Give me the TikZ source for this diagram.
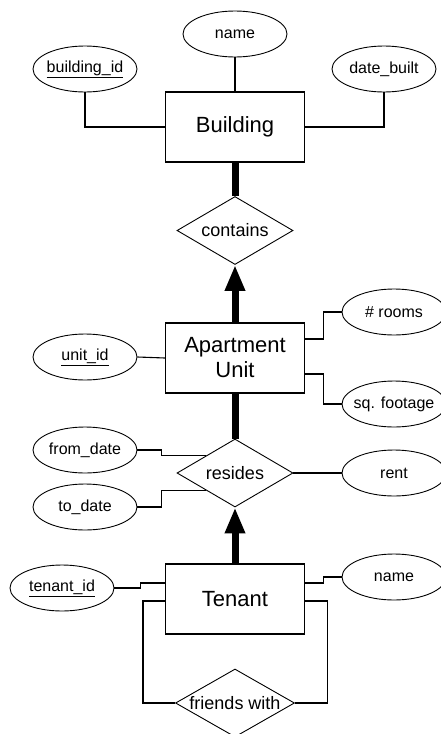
\documentclass[tikz,border=0pt]{standalone}
\usepackage{fontspec}
\setmainfont{Liberation Sans}
\usetikzlibrary{shapes.geometric,arrows.meta,calc}
\tikzset{
  ent/.style={draw, rectangle, minimum width=139pt, minimum height=70pt, inner sep=0pt, line width=1.1pt, font=\fontsize{22}{25}\selectfont, align=center},
  attr/.style={draw, ellipse, minimum width=104pt, minimum height=46pt, inner sep=0pt, line width=0.9pt, label={[font=\fontsize{16}{18}\selectfont]center:#1}},
  rel/.style={draw, diamond, minimum width=116pt, minimum height=68pt, inner sep=0pt, line width=0.9pt, label={[font=\fontsize{18}{20}\selectfont]center:#1}},
  conn/.style={line width=1.1pt},
  heavy/.style={line width=7pt},
  heavyarrow/.style={line width=7pt, -{Triangle[width=19pt,length=26pt]}}
}
\begin{document}
\begin{tikzpicture}[x=1pt,y=-1pt]
\useasboundingbox (0,0) rectangle (441,734);
% Building
\node[ent] (bld) at (235,127) {Building};
\node[attr={name}] (bname) at (235,34) {};
\node[attr={\underline{building\_id}}] (bid) at (85,69) {};
\node[attr={date\_built}] (dbuilt) at (384,69) {};
\draw[conn] (bname.south) -- (bld.north);
\draw[conn] (bid.south) |- (bld.west);
\draw[conn] (dbuilt.south) |- (bld.east);
% contains
\node[rel={contains}] (con) at (235,230.5) {};
\draw[heavy] (bld.south) -- (con.north);
% Apartment Unit
\node[ent] (apt) at (235,358) {Apartment\\Unit};
\draw[heavyarrow] (apt.north) -- (con.south);
\node[attr={\underline{unit\_id}}] (uid) at (85,357) {};
\node[attr={\# rooms}] (rooms) at (394,312) {};
\node[attr={sq. footage}] (sqft) at (394,404) {};
\draw[conn] (uid.east) -- (apt.west);
\draw[conn] ([yshift=19pt]apt.east) -- ++(18,0) |- (rooms.west);
\draw[conn] ([yshift=-16pt]apt.east) -- ++(18,0) |- (sqft.west);
% resides
\node[rel={resides}] (res) at (235,473) {};
\draw[heavy] (apt.south) -- (res.north);
\node[attr={from\_date}] (fd) at (85,450) {};
\node[attr={to\_date}] (td) at (85,507) {};
\node[attr={rent}] (rent) at (394,473) {};
\draw[conn] (fd.east) -- ++(24,0) |- (res.north west);
\draw[conn] (td.east) -- ++(24,0) |- (res.south west);
\draw[conn] (res.east) -- (rent.west);
% Tenant
\node[ent] (ten) at (235,599) {Tenant};
\draw[heavyarrow] (ten.north) -- (res.south);
\node[attr={\underline{tenant\_id}}] (tid) at (62,588) {};
\node[attr={name}] (tname) at (394,577) {};
\draw[conn] (tid.east) -- ++(26,0) |- ([yshift=16pt]ten.west);
\draw[conn] ([yshift=16pt]ten.east) -- ++(18,0) |- (tname.west);
% friends with
\node[rel={friends with}, minimum width=119pt] (fw) at (235,703) {};
\draw[conn] ([yshift=-2pt]ten.west) -- ++(-22,0) |- (fw.west);
\draw[conn] ([yshift=-2pt]ten.east) -- ++(22,0) |- (fw.east);
\end{tikzpicture}
\end{document}
